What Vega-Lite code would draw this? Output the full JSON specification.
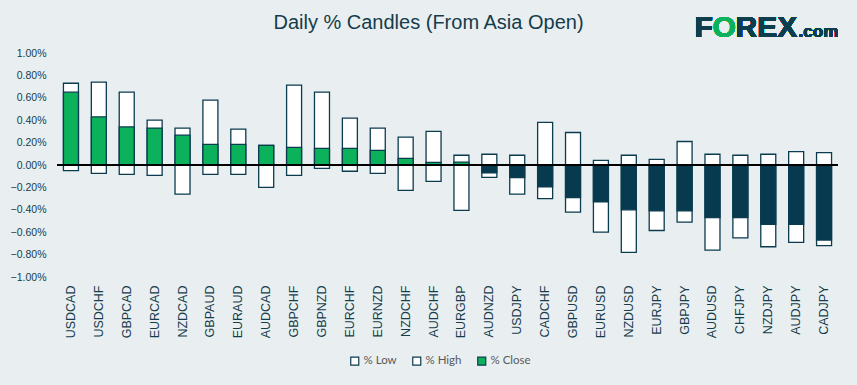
{
  "$schema": "https://vega.github.io/schema/vega-lite/v6.json",
  "width": 781,
  "height": 224,
  "autosize": {"type": "none"},
  "padding": {"left": 57, "top": 53, "right": 19, "bottom": 108},
  "background": "#E9EFF0",
  "title": {
    "text": "Daily % Candles (From Asia Open)",
    "font": "Liberation Sans",
    "fontSize": 20,
    "fontWeight": "normal",
    "color": "#163C4C",
    "anchor": "middle",
    "frame": "group",
    "offset": -20,
    "dx": -19
  },
  "data": {
    "values": [
      {"pair": "USDCAD", "low": -0.05, "high": 0.73, "close": 0.65},
      {"pair": "USDCHF", "low": -0.075, "high": 0.74, "close": 0.43},
      {"pair": "GBPCAD", "low": -0.083, "high": 0.65, "close": 0.34},
      {"pair": "EURCAD", "low": -0.092, "high": 0.40, "close": 0.33},
      {"pair": "NZDCAD", "low": -0.26, "high": 0.33, "close": 0.266},
      {"pair": "GBPAUD", "low": -0.083, "high": 0.58, "close": 0.185},
      {"pair": "EURAUD", "low": -0.083, "high": 0.32, "close": 0.185},
      {"pair": "AUDCAD", "low": -0.20, "high": 0.176, "close": 0.176},
      {"pair": "GBPCHF", "low": -0.092, "high": 0.713, "close": 0.158},
      {"pair": "GBPNZD", "low": -0.03, "high": 0.65, "close": 0.149},
      {"pair": "EURCHF", "low": -0.056, "high": 0.418, "close": 0.149},
      {"pair": "EURNZD", "low": -0.075, "high": 0.33, "close": 0.131},
      {"pair": "NZDCHF", "low": -0.227, "high": 0.248, "close": 0.06},
      {"pair": "AUDCHF", "low": -0.146, "high": 0.30, "close": 0.024},
      {"pair": "EURGBP", "low": -0.405, "high": 0.087, "close": 0.025},
      {"pair": "AUDNZD", "low": -0.11, "high": 0.096, "close": -0.069},
      {"pair": "USDJPY", "low": -0.26, "high": 0.087, "close": -0.113},
      {"pair": "CADCHF", "low": -0.30, "high": 0.38, "close": -0.194},
      {"pair": "GBPUSD", "low": -0.42, "high": 0.29, "close": -0.29},
      {"pair": "EURUSD", "low": -0.60, "high": 0.042, "close": -0.33},
      {"pair": "NZDUSD", "low": -0.78, "high": 0.087, "close": -0.40},
      {"pair": "EURJPY", "low": -0.585, "high": 0.051, "close": -0.41},
      {"pair": "GBPJPY", "low": -0.51, "high": 0.21, "close": -0.41},
      {"pair": "AUDUSD", "low": -0.76, "high": 0.096, "close": -0.47},
      {"pair": "CHFJPY", "low": -0.65, "high": 0.087, "close": -0.47},
      {"pair": "NZDJPY", "low": -0.73, "high": 0.096, "close": -0.53},
      {"pair": "AUDJPY", "low": -0.69, "high": 0.12, "close": -0.53},
      {"pair": "CADJPY", "low": -0.72, "high": 0.11, "close": -0.67}
    ]
  },
  "layer": [
    {
      "transform": [{"fold": ["low", "high", "close"], "as": ["series", "value"]}],
      "mark": {"type": "bar", "stroke": "#0B3B4F", "strokeWidth": 1.3, "width": 15},
      "encoding": {
        "x": {
          "field": "pair",
          "type": "nominal",
          "sort": null,
          "axis": {"title": null, "labelAngle": -90}
        },
        "y": {
          "field": "value",
          "type": "quantitative",
          "stack": null,
          "scale": {"domain": [-1, 1], "nice": false},
          "axis": {
            "title": null,
            "values": [-1, -0.8, -0.6, -0.4, -0.2, 0, 0.2, 0.4, 0.6, 0.8, 1],
            "tickCount": 11,
            "labelExpr": "format(datum.value, '.2f') + '%'",
            "labelOverlap": false,
            "labelFont": "Liberation Sans",
            "labelFontSize": 10.5,
            "labelColor": "#163C4C"
          }
        },
        "order": {"field": "series", "sort": "descending"},
        "fill": {
          "condition": {"test": "datum.series === 'close' && datum.value < 0", "value": "#073A4E"},
          "field": "series",
          "type": "nominal",
          "scale": {"domain": ["low", "high", "close"], "range": ["#FFFFFF", "#FFFFFF", "#0BB25B"]},
          "legend": {
            "orient": "none",
            "legendX": 292,
            "legendY": 302,
            "direction": "horizontal",
            "title": null,
            "symbolType": "square",
            "symbolSize": 64,
            "symbolStrokeColor": "#0B3B4F",
            "symbolStrokeWidth": 1.2,
            "labelFont": "Lato",
            "labelFontSize": 11.5,
            "labelColor": "#595959",
            "labelOffset": 3,
            "columnPadding": 13,
            "labelExpr": "datum.label === 'low' ? '% Low' : datum.label === 'high' ? '% High' : '% Close'"
          }
        }
      }
    },
    {
      "mark": {"type": "rule", "color": "#000000", "strokeWidth": 1.3},
      "encoding": {"y": {"datum": 0, "type": "quantitative"}}
    },
    {
      "mark": {"type": "text", "text": "F", "font": "Liberation Sans", "fontSize": 30, "fontWeight": "bold", "color": "#0E3D4E", "align": "left", "baseline": "alphabetic", "dx": 10},
      "encoding": {"x": {"datum": "GBPJPY"}, "y": {"datum": 1.143, "type": "quantitative"}}
    },
    {
      "mark": {"type": "text", "text": "O", "font": "Liberation Sans", "fontSize": 30, "fontWeight": "bold", "color": "#0BB25B", "align": "left", "baseline": "alphabetic", "dx": 28},
      "encoding": {"x": {"datum": "GBPJPY"}, "y": {"datum": 1.143, "type": "quantitative"}}
    },
    {
      "mark": {"type": "text", "text": "REX", "font": "Liberation Sans", "fontSize": 30, "fontWeight": "bold", "color": "#0E3D4E", "align": "left", "baseline": "alphabetic", "dx": 51},
      "encoding": {"x": {"datum": "GBPJPY"}, "y": {"datum": 1.143, "type": "quantitative"}}
    },
    {
      "mark": {"type": "text", "text": ".com", "font": "Liberation Sans", "fontSize": 17, "fontWeight": "bold", "color": "#0E3D4E", "align": "left", "baseline": "alphabetic", "dx": 114},
      "encoding": {"x": {"datum": "GBPJPY"}, "y": {"datum": 1.143, "type": "quantitative"}}
    }
  ],
  "config": {
    "view": {"stroke": null},
    "axisX": {
      "labelFont": "Liberation Sans",
      "labelFontSize": 12.5,
      "labelColor": "#163C4C",
      "labelPadding": 8,
      "labelOverlap": false,
      "domain": false,
      "ticks": false,
      "grid": false
    },
    "axisY": {
      "labelPadding": 11,
      "labelFlush": false,
      "grid": false,
      "domain": false,
      "ticks": false
    }
  }
}
